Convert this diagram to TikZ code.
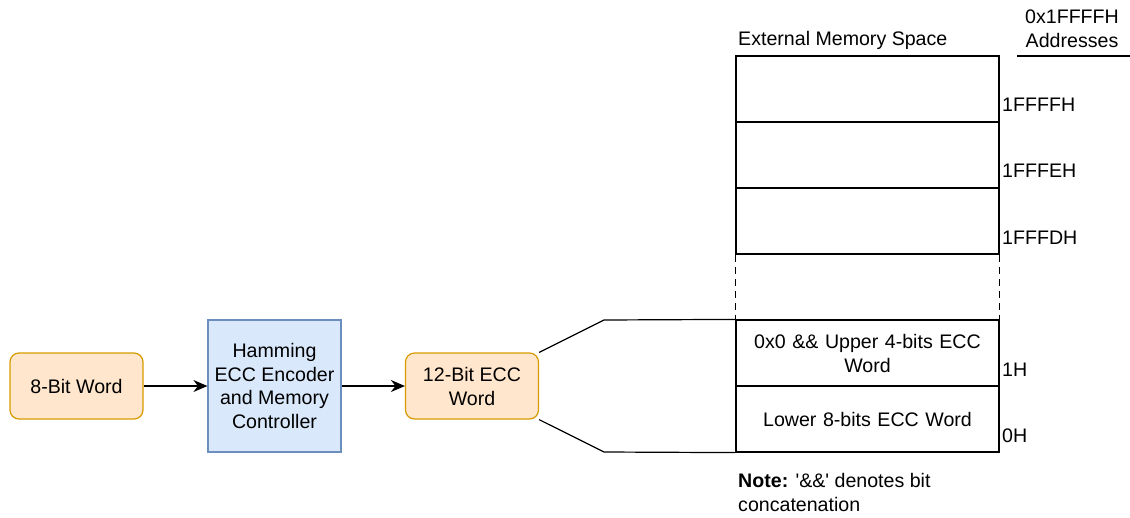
\documentclass[tikz,border=0pt]{standalone}
\usepackage{fontspec}
\setmainfont{Liberation Sans}
\usetikzlibrary{arrows.meta}
\definecolor{orfill}{HTML}{FFE6CC}
\definecolor{ordraw}{HTML}{D79B00}
\definecolor{blfill}{HTML}{DAE8FC}
\definecolor{bldraw}{HTML}{6C8EBF}
\tikzset{
  txt/.style={font=\fontsize{19.6}{24}\selectfont, inner sep=0pt},
  orbox/.style={draw=ordraw, fill=orfill, rounded corners=9pt, line width=1.2pt, minimum width=133pt, minimum height=66pt, align=center, font=\fontsize{19.6}{24}\selectfont, inner sep=0pt},
  blbox/.style={draw=bldraw, fill=blfill, line width=1.2pt, minimum width=133pt, minimum height=132pt, align=center, font=\fontsize{19.6}{23.5}\selectfont, inner sep=0pt},
  memrow/.style={draw, line width=1.2pt, minimum width=263pt, minimum height=66pt, align=center, font=\fontsize{19.6}{24}\selectfont, inner sep=0pt, text width=255pt},
  conn/.style={line width=1.2pt},
  arr/.style={line width=1.2pt, -{Stealth[length=14pt,width=12pt]}},
}
\begin{document}
\begin{tikzpicture}[x=1pt,y=-1pt]
\useasboundingbox (0,0) rectangle (1130,517);
% left chain
\node[orbox] (w8) at (76.5,386) {8-Bit Word};
\node[blbox] (ham) at (274.5,386) {Hamming\\ECC Encoder\\and Memory\\Controller};
\node[orbox] (w12) at (472,386) {12-Bit ECC\\Word};
\draw[arr] (w8) -- (ham);
\draw[arr] (ham) -- (w12);
% memory rows
\node[memrow] (r1) at (867.5,89) {};
\node[memrow] (r2) at (867.5,155) {};
\node[memrow] (r3) at (867.5,221) {};
\node[memrow] (r5) at (867.5,353) {0x0 \&\& Upper 4-bits ECC\\Word};
\node[memrow] (r6) at (867.5,419) {Lower 8-bits ECC Word};
\draw[conn, dash pattern=on 7pt off 5pt] (r3.south west) -- (r5.north west);
\draw[conn, dash pattern=on 7pt off 5pt] (r3.south east) -- (r5.north east);
% fan lines
\coordinate (ft) at (604,320);
\coordinate (fb) at (604,452);
\draw[conn] (w12.north east) -- (ft) -- (r5.north west);
\draw[conn] (w12.south east) -- (fb) -- (r6.south west);
% labels
\node[txt, anchor=west] (lab1) at (1002,105) {1FFFFH};
\node[txt, anchor=west] (lab2) at (1002,171) {1FFFEH};
\node[txt, anchor=west] (lab3) at (1002,238) {1FFFDH};
\node[txt, anchor=west] (lab5) at (1002,370) {1H};
\node[txt, anchor=west] (lab6) at (1002,436) {0H};
\node[txt, anchor=west] (ems) at (738,40) {External Memory Space};
\node[txt, align=center] (addr) at (1072,29) {0x1FFFFH\\Addresses};
\coordinate (ul1) at (1017,56);
\coordinate (ul2) at (1130,56);
\draw[conn] (ul1) -- (ul2);
\node[txt, anchor=north west, align=left] (note) at (738,473) {\textbf{Note:} \textquotesingle\&\&\textquotesingle{} denotes bit\\concatenation};
\end{tikzpicture}
\end{document}
